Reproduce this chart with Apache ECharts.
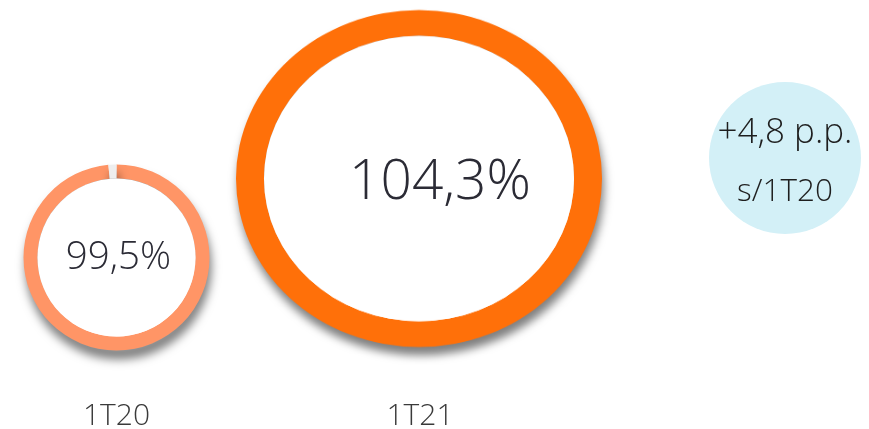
<!DOCTYPE html>
<html>
<head>
<meta charset="utf-8">
<script src="https://cdn.jsdelivr.net/npm/echarts@6/dist/echarts.min.js"></script>
<style>
  html, body { margin: 0; padding: 0; background: #ffffff; }
  #wrap { position: relative; width: 869px; height: 429px; overflow: hidden; }
  #ringB { position: absolute; left: 0; top: -40px; width: 869px; height: 509px;
           transform-origin: 419px 218.5px; transform: scaleY(0.9208); }
  #main { position: absolute; left: 0; top: 0; width: 869px; height: 429px; }
</style>
</head>
<body>
<div id="wrap">
  <div id="ringB"></div>
  <div id="main"></div>
</div>
<script>
// ---- data ----
const categories = ['1T20', '1T21'];
const values = [99.5, 104.3];
const changeLines = ['+4,8 p.p.', 's/1T20'];

// ---- style ----
const ringColors = ['#FF9566', '#FF7009'];
const gapColor = '#EEEEEE';
const FONT = '"Open Sans", "Liberation Sans", sans-serif';

function fmt(v) { return v.toFixed(1).replace('.', ',') + '%'; }

function ringSeries(i, center, radius) {
  const rest = Math.max(0, 100 - values[i]);
  const data = [{ name: categories[i], value: values[i], itemStyle: { color: ringColors[i] } }];
  if (rest > 0) data.push({ name: 'rest', value: rest, itemStyle: { color: gapColor } });
  return [{
    type: 'pie', z: 2, center: center, radius: radius,
    startAngle: 90, clockwise: true, minAngle: rest > 0 ? 5 : 0, silent: true,
    label: { show: false }, labelLine: { show: false },
    emphasis: { disabled: true },
    itemStyle: {
      shadowBlur: 10, shadowOffsetX: 2, shadowOffsetY: 9,
      shadowColor: 'rgba(0,0,0,0.5)'
    },
    data: data
  }, {
    type: 'pie', z: 3, center: center, radius: [0, radius[0]],
    silent: true, label: { show: false }, labelLine: { show: false },
    emphasis: { disabled: true },
    itemStyle: { color: '#ffffff' },
    data: [{ name: categories[i] + ' inner', value: 1 }]
  }];
}

// chart for right ring (vertically squeezed ellipse like the reference)
const chartB = echarts.init(document.getElementById('ringB'), null, { renderer: 'canvas' });
chartB.setOption({
  animation: false,
  backgroundColor: 'transparent',
  series: ringSeries(1, [419, 218.5], [155, 183])
});

// main chart
const chartA = echarts.init(document.getElementById('main'), null, { renderer: 'canvas' });
const labelColor = '#2B2B35';
const texts = [
  { x: 118.5, y: 258, s: fmt(values[0]), size: 38.5, color: labelColor },
  { x: 440, y: 183, s: fmt(values[1]), size: 55, color: labelColor },
  { x: 116.5, y: 416, s: categories[0], size: 30, color: '#3A3A3A' },
  { x: 420, y: 416, s: categories[1], size: 30, color: '#3A3A3A' },
  { x: 785, y: 133, s: changeLines[0], size: 35, color: '#1E1E1E' },
  { x: 785, y: 192, s: changeLines[1], size: 31.5, color: '#1E1E1E' }
];
chartA.setOption({
  animation: false,
  backgroundColor: 'transparent',
  series: ringSeries(0, [116.5, 257.5], [79, 93]).concat([{
    type: 'pie', z: 2, center: [785, 158], radius: [0, 76],
    silent: true, label: { show: false }, labelLine: { show: false },
    emphasis: { disabled: true },
    itemStyle: { color: '#D3F0F7' },
    data: [{ name: 'change', value: 1 }]
  }]),
  graphic: texts.map(t => ({
    type: 'text', z: 100, x: t.x, y: t.y,
    style: {
      text: t.s, fill: t.color, font: '300 ' + t.size + 'px ' + FONT,
      textAlign: 'center', textVerticalAlign: 'middle'
    }
  }))
});
</script>
</body>
</html>
